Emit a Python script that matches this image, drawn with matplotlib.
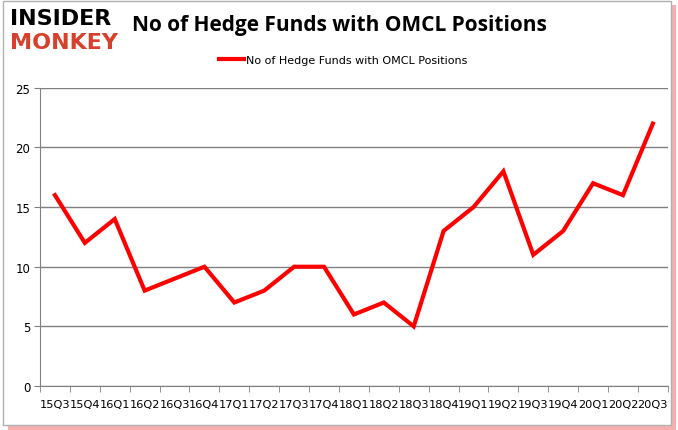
import matplotlib
matplotlib.use("Agg")
import matplotlib.pyplot as plt
from matplotlib.patches import Rectangle

quarters = ["15Q3", "15Q4", "16Q1", "16Q2", "16Q3", "16Q4", "17Q1", "17Q2", "17Q3", "17Q4",
            "18Q1", "18Q2", "18Q3", "18Q4", "19Q1", "19Q2", "19Q3", "19Q4", "20Q1", "20Q2", "20Q3"]
funds = [16, 12, 14, 8, 9, 10, 7, 8, 10, 10, 6, 7, 5, 13, 15, 18, 11, 13, 17, 16, 22]
y_ticks = [0, 5, 10, 15, 20, 25]
series_name = "No of Hedge Funds with OMCL Positions"
title = "No of Hedge Funds with OMCL Positions"

fig = plt.figure(figsize=(6.78, 4.31), dpi=100)
fig.patch.set_facecolor("white")

# frame with red shadow
fig.add_artist(Rectangle((0.012, 0.0), 0.985, 0.985, transform=fig.transFigure,
                         facecolor="#f6b0b0", edgecolor="none", zorder=-3))
fig.add_artist(Rectangle((0.004, 0.012), 0.985, 0.983, transform=fig.transFigure,
                         facecolor="white", edgecolor="#b0b0b0", linewidth=1, zorder=-2))

ax = fig.add_axes([0.059, 0.102, 0.926, 0.692])
x = list(range(len(quarters)))
ax.plot(x, funds, color="#ff0000", linewidth=3, label=series_name, solid_joinstyle="miter")
ax.set_xlim(-0.5, len(quarters) - 0.5)
ax.set_ylim(0, 25)
ax.set_yticks(y_ticks)
ax.set_yticklabels([str(v) for v in y_ticks], fontsize=8.5, family="DejaVu Sans")
ax.set_xticks(x)
ax.set_xticklabels(quarters, fontsize=8.2, family="DejaVu Sans")
ax.set_xticks([i - 0.5 for i in range(len(quarters) + 1)], minor=True)
ax.tick_params(axis="x", which="major", length=0, pad=9)
ax.tick_params(axis="x", which="minor", length=4, color="#808080", direction="out")
ax.tick_params(axis="y", length=4, color="#808080", direction="out", pad=3)
ax.grid(axis="y", color="#808080", linewidth=1)
ax.set_axisbelow(True)
for s in ["top", "right"]:
    ax.spines[s].set_visible(False)
for s in ["left", "bottom"]:
    ax.spines[s].set_color("#808080")
ax.patch.set_alpha(0)

leg = ax.legend(loc="upper center", bbox_to_anchor=(0.483, 1.145), frameon=False,
                fontsize=8, handlelength=2.2, handletextpad=0.2)

fig.text(0.5, 0.94, title, ha="center", va="center", fontsize=15, fontweight="bold",
         family="Open Sans")

fig.text(0.015, 0.955, "INSIDER", ha="left", va="center", fontsize=16, fontweight="heavy",
         family="DejaVu Sans", color="black")
fig.text(0.015, 0.9, "MONKEY", ha="left", va="center", fontsize=16, fontweight="heavy",
         family="DejaVu Sans", color="#d9402b")

fig.savefig("out.png", dpi=100)
